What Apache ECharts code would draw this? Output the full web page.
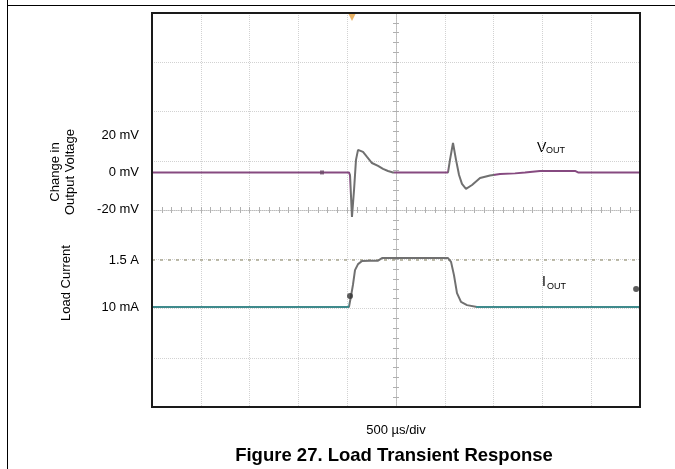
<!DOCTYPE html>
<html>
<head>
<meta charset="utf-8">
<script src="https://cdn.jsdelivr.net/npm/echarts@6/dist/echarts.min.js"></script>
<style>
html, body { margin: 0; padding: 0; background: #fff; }
#chart { width: 675px; height: 469px; }
</style>
</head>
<body>
<div id="chart"></div>
<script>
// time axis in µs, 500 µs/div over 10 divisions
var vTime = [0, 1742, 2018, 2029, 2049, 2070, 2090, 2111, 2131, 2162, 2203, 2254, 2316, 2367, 2418, 2469,
             3033, 3053, 3084, 3115, 3146, 3176, 3217, 3279, 3361, 3463, 3566, 3719, 3822, 3975, 4334, 4365, 5000];
var vOut = [0, 0, 0, -1.5, -24, -9.5, 6.8, 12.2, 13.2, 11.1, 8.4, 5.1, 3.5, 1.9, 0.8, 0,
            0, 6.8, 15.9, 6.8, -1.4, -6.2, -8.9, -6.8, -3.0, -1.6, -0.8, -0.5, 0, 0.8, 0.8, 0, 0];
var iTime = [0, 2018, 2039, 2059, 2080, 2111, 2152, 2234, 2316, 2357, 3033, 3064, 3094, 3125, 3166, 3228, 3330, 5000];
var iOut = [0.01, 0.01, 0.36, 0.71, 1.18, 1.37, 1.47, 1.48, 1.48, 1.56, 1.56, 1.44, 1.02, 0.45, 0.17, 0.07, 0.01, 0.01];

var vTicks = [-20, 0, 20];
var iTicks = [0.01, 1.5];
var iTickText = ['10 mA', '1.5 A'];
var iLevel = 1.5;

// small scope markers drawn on the traces
var vMarks = [[1742, 0]];
var iMarks = [[2029, 0.36], [4960, 0.58]];
var trigger = [[2049, 84]];

// axis ranges so the channels sit where the scope put them
var vMin = -126.8, vMax = 86.2;
var iMin = -3.16, iMax = 9.33;

var font = 'Liberation Sans, Arial, sans-serif';
var purple = '#864a80';
var teal = '#3f8a8c';
var trans = '#707070';
var gridDot = '#d2d2d2';

function pairs(xs, ys) {
    return xs.map(function (x, i) { return [x, ys[i]]; });
}

var chart = echarts.init(document.getElementById('chart'));

function centerX(inside) {
    return {
        type: 'value', min: 0, max: 5000, interval: 100,
        position: 'bottom', offset: -197,
        axisLine: { show: !inside, lineStyle: { color: '#bdbdbd', type: 'dotted', width: 1 } },
        axisTick: { show: true, inside: inside, length: 3, lineStyle: { color: '#b0b0b0' } },
        axisLabel: { show: false },
        splitLine: { show: false }
    };
}
function centerY(inside) {
    return {
        type: 'value', min: 0, max: 40, interval: 1,
        position: 'left', offset: -244,
        axisLine: { show: !inside, lineStyle: { color: '#bdbdbd', type: 'dotted', width: 1 } },
        axisTick: { show: true, inside: inside, length: 3, lineStyle: { color: '#b0b0b0' } },
        axisLabel: { show: false },
        splitLine: { show: false }
    };
}

var option = {
    backgroundColor: '#fff',
    animation: false,
    textStyle: { fontFamily: font },
    grid: {
        left: 152, top: 13, width: 488, height: 394,
        show: true, borderColor: '#1c1c1c', borderWidth: 2, backgroundColor: '#fff'
    },
    xAxis: [
        {
            type: 'value', min: 0, max: 5000, interval: 500,
            axisLine: { show: false }, axisTick: { show: false }, axisLabel: { show: false },
            splitLine: { show: true, showMinLine: false, showMaxLine: false,
                         lineStyle: { color: gridDot, type: 'dotted', width: 1 } }
        },
        centerX(false),
        centerX(true)
    ],
    yAxis: [
        {
            type: 'value', min: vMin, max: vMax, position: 'left',
            axisLine: { show: false }, axisTick: { show: false },
            axisLabel: {
                customValues: vTicks, formatter: '{value} mV',
                color: '#000', fontSize: 13, margin: 13, fontFamily: font
            },
            splitLine: { show: false }
        },
        {
            type: 'value', min: iMin, max: iMax, position: 'left',
            axisLine: { show: false }, axisTick: { show: false },
            axisLabel: {
                customValues: iTicks,
                formatter: function (v) { return iTickText[iTicks.indexOf(v)]; },
                color: '#000', fontSize: 13, margin: 13, fontFamily: font
            },
            splitLine: { show: false }
        },
        {
            type: 'value', min: 0, max: 8, interval: 1,
            axisLine: { show: false }, axisTick: { show: false }, axisLabel: { show: false },
            splitLine: { show: true, showMinLine: false, showMaxLine: false,
                         lineStyle: { color: gridDot, type: 'dotted', width: 1 } }
        },
        centerY(false),
        centerY(true)
    ],
    visualMap: [
        {
            show: false, type: 'piecewise', seriesIndex: 0, dimension: 0,
            pieces: [
                { lt: 2025, color: purple },
                { gte: 2025, lt: 2475, color: trans },
                { gte: 2475, lt: 3035, color: purple },
                { gte: 3035, lt: 3500, color: trans },
                { gte: 3500, color: purple }
            ]
        },
        {
            show: false, type: 'piecewise', seriesIndex: 1, dimension: 0,
            pieces: [
                { lt: 2020, color: teal },
                { gte: 2020, lt: 3320, color: trans },
                { gte: 3320, color: teal }
            ]
        }
    ],
    series: [
        {
            name: 'VOUT', type: 'line', xAxisIndex: 0, yAxisIndex: 0,
            data: pairs(vTime, vOut), showSymbol: false, z: 5,
            lineStyle: { width: 2 }
        },
        {
            name: 'IOUT', type: 'line', xAxisIndex: 0, yAxisIndex: 1,
            data: pairs(iTime, iOut), showSymbol: false, z: 5,
            lineStyle: { width: 2 },
            markLine: {
                silent: true, symbol: 'none', label: { show: false },
                lineStyle: { color: '#a8a58e', type: [3, 5], width: 1.5 },
                data: [{ yAxis: iLevel }]
            }
        },
        {
            name: 'vmarks', type: 'scatter', yAxisIndex: 0, data: vMarks,
            symbol: 'rect', symbolSize: 4, itemStyle: { color: '#6a4a66' }, z: 6
        },
        {
            name: 'imarks', type: 'scatter', yAxisIndex: 1, data: iMarks,
            symbolSize: 6, itemStyle: { color: '#333' }, z: 6
        },
        {
            name: 'trigger', type: 'scatter', yAxisIndex: 0, data: trigger,
            symbol: 'triangle', symbolRotate: 180, symbolSize: 8,
            itemStyle: { color: '#e4a040' }, z: 6
        }
    ],
    graphic: [
        { type: 'line', shape: { x1: 7, y1: 5.5, x2: 675, y2: 5.5 }, style: { stroke: '#000', lineWidth: 1 } },
        { type: 'line', shape: { x1: 7.5, y1: 0, x2: 7.5, y2: 469 }, style: { stroke: '#000', lineWidth: 1 } },
        // scope screen frame
        {
            type: 'rect', z: 100, silent: true,
            shape: { x: 152, y: 13, width: 488, height: 394 },
            style: { fill: 'none', stroke: '#1a1a1a', lineWidth: 2 }
        },
        {
            type: 'text', x: 63, y: 172, rotation: Math.PI / 2,
            style: { text: 'Change in\nOutput Voltage', font: '13px ' + font, fill: '#000',
                     align: 'center', verticalAlign: 'middle', lineHeight: 15 }
        },
        {
            type: 'text', x: 66, y: 283, rotation: Math.PI / 2,
            style: { text: 'Load Current', font: '13px ' + font, fill: '#000',
                     align: 'center', verticalAlign: 'middle' }
        },
        { type: 'text', x: 537, y: 148, style: { text: 'V', font: '14px ' + font, fill: '#000', verticalAlign: 'middle' } },
        { type: 'text', x: 546, y: 151, style: { text: 'OUT', font: '9px ' + font, fill: '#000', verticalAlign: 'middle' } },
        { type: 'text', x: 542, y: 282, style: { text: 'I', font: '14px ' + font, fill: '#000', verticalAlign: 'middle' } },
        { type: 'text', x: 547, y: 287, style: { text: 'OUT', font: '9px ' + font, fill: '#000', verticalAlign: 'middle' } },
        {
            type: 'text', x: 396, y: 430,
            style: { text: '500 µs/div', font: '13px ' + font, fill: '#000', align: 'center', verticalAlign: 'middle' }
        },
        {
            type: 'text', x: 394, y: 456,
            style: { text: 'Figure 27. Load Transient Response', font: 'bold 18.5px ' + font, fill: '#000',
                     align: 'center', verticalAlign: 'middle' }
        }
    ]
};

chart.setOption(option);
</script>
</body>
</html>
